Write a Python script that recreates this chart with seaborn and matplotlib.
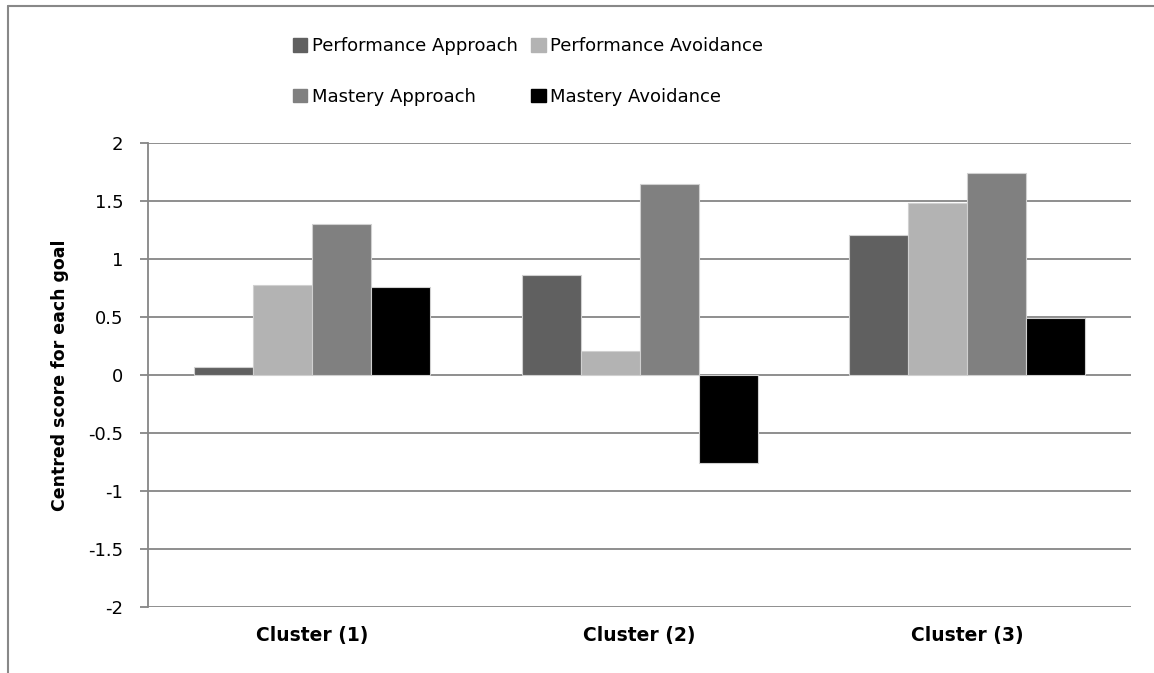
import pandas as pd
import matplotlib.pyplot as plt
import seaborn as sns
from matplotlib.lines import Line2D

# 数据
clusters = ["Cluster (1)", "Cluster (2)", "Cluster (3)"]
goals = ["Performance Approach", "Performance Avoidance", "Mastery Approach", "Mastery Avoidance"]
perf_approach = [0.07, 0.86, 1.21]
perf_avoid = [0.78, 0.21, 1.48]
mast_approach = [1.30, 1.65, 1.74]
mast_avoid = [0.76, -0.76, 0.49]
colors = ["#606060", "#b3b3b3", "#808080", "#000000"]

df = pd.DataFrame({
    "cluster": clusters * 4,
    "goal": [g for g in goals for _ in clusters],
    "score": perf_approach + perf_avoid + mast_approach + mast_avoid,
})

sns.set_style("white")
plt.rcParams["font.family"] = ["DejaVu Sans"]
plt.rcParams["text.color"] = "black"
plt.rcParams["axes.labelcolor"] = "black"
plt.rcParams["xtick.labelcolor"] = "black"
plt.rcParams["ytick.labelcolor"] = "black"

fig = plt.figure(figsize=(11.54, 6.73), dpi=100)
ax = fig.add_axes([0.1282, 0.098, 0.852, 0.6895])

sns.barplot(data=df, x="cluster", y="score", hue="goal", hue_order=goals,
            palette=colors, width=0.72, edgecolor="#d0d0d0", linewidth=0.8,
            saturation=1, ax=ax, zorder=3)

ax.set_ylim(-2, 2)
ax.set_yticks([-2, -1.5, -1, -0.5, 0, 0.5, 1, 1.5, 2])
ax.set_yticklabels(["-2", "-1.5", "-1", "-0.5", "0", "0.5", "1", "1.5", "2"], fontsize=13)
ax.yaxis.grid(True, color="#868686", linewidth=1.3, zorder=0)
ax.set_axisbelow(True)
ax.tick_params(axis="y", left=True, length=5.8, width=1.3, color="#868686", pad=12)
ax.tick_params(axis="x", bottom=False, pad=10)
for lab in ax.get_xticklabels():
    lab.set_fontweight("bold")
    lab.set_fontsize(13.5)

for s in ["top", "right", "bottom"]:
    ax.spines[s].set_visible(False)
ax.spines["left"].set_color("#868686")
ax.spines["left"].set_linewidth(1.3)

ax.set_xlabel("")
ax.set_ylabel("Centred score for each goal", fontsize=12.5, fontweight="bold", labelpad=14)

# 图例（按行排列）
ax.legend_.remove()
order = [0, 2, 1, 3]
handles = [plt.Rectangle((0, 0), 1, 1, color=colors[i]) for i in order]
fig.legend(handles, [goals[i] for i in order], ncol=2, loc="upper left",
           bbox_to_anchor=(293 / 1154, 1 - 37 / 673), borderpad=0, borderaxespad=0,
           frameon=False, fontsize=13, handlelength=0.8, handleheight=0.8,
           handletextpad=0.25, columnspacing=0.75, labelspacing=1.82)

# 外框
fig.add_artist(Line2D([8 / 1154, 8 / 1154], [0, 1 - 6 / 673], color="#888888", linewidth=1.5))
fig.add_artist(Line2D([8 / 1154, 1], [1 - 6 / 673, 1 - 6 / 673], color="#888888", linewidth=1.5))

fig.savefig("out.png", dpi=100)
